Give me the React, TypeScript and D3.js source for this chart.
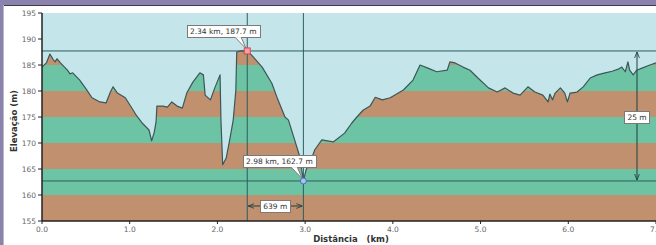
import React, { useEffect, useRef } from 'react';
import * as d3 from 'd3';

// ------- Data -------
const distanceKm = [
  0.0, 0.05, 0.09, 0.13, 0.15, 0.17, 0.21, 0.29, 0.32, 0.35, 0.43, 0.51, 0.57, 0.66, 0.73, 0.78,
  0.81, 0.86, 0.95, 1.04, 1.08, 1.15, 1.22, 1.25, 1.28, 1.3, 1.31, 1.38, 1.43, 1.48, 1.54, 1.6,
  1.65, 1.72, 1.8, 1.84, 1.86, 1.92, 1.97, 2.03, 2.04, 2.06, 2.1, 2.14, 2.18, 2.21, 2.22, 2.26,
  2.34, 2.39, 2.51, 2.62, 2.69, 2.77, 2.81, 2.88, 2.94, 2.98, 3.01, 3.08, 3.11, 3.19, 3.32, 3.45,
  3.53, 3.59, 3.66, 3.74, 3.8, 3.88, 3.97, 4.12, 4.23, 4.31, 4.4, 4.5, 4.62, 4.65, 4.71, 4.8,
  4.88, 4.97, 5.09, 5.19, 5.28, 5.37, 5.45, 5.54, 5.62, 5.71, 5.77, 5.79, 5.82, 5.85, 5.91, 5.96,
  5.99, 6.02, 6.1, 6.17, 6.25, 6.33, 6.42, 6.5, 6.57, 6.61, 6.65, 6.68, 6.7, 6.74, 6.78, 6.84,
  6.93, 7.0,
];
const elevationM = [
  184.6, 185.4, 187.1, 186.0, 185.6, 186.2, 185.4, 184.0, 183.3, 183.5, 182.1, 180.2, 178.7, 177.9,
  177.7, 179.8, 180.8, 179.6, 178.7, 176.3, 175.2, 173.7, 172.5, 170.4, 172.1, 174.0, 177.1, 177.1,
  176.9, 177.9, 177.1, 176.7, 179.6, 181.7, 183.5, 183.1, 179.2, 178.3, 180.6, 183.1, 174.4, 165.8,
  167.1, 170.6, 174.4, 180.2, 187.5, 187.7, 187.7, 186.9, 184.6, 181.5, 178.3, 175.0, 174.4, 170.6,
  167.3, 162.7, 164.8, 167.3, 168.7, 170.6, 170.2, 171.9, 173.8, 175.0, 176.3, 177.1, 178.8, 178.3,
  178.7, 180.2, 182.1, 185.0, 184.4, 183.7, 184.0, 185.6, 185.4, 184.6, 184.0, 182.5, 180.6, 179.8,
  180.6, 179.6, 179.2, 180.8, 179.8, 179.2, 177.9, 179.4, 178.3, 179.6, 180.6, 179.6, 177.9, 179.6,
  179.8, 180.8, 182.5, 183.1, 183.5, 183.8, 184.2, 184.6, 183.7, 185.6, 184.0, 183.1, 184.0, 184.4,
  185.0, 185.4,
];

const yTicks = [155, 160, 165, 170, 175, 180, 185, 190, 195];
const xTicks = [0, 1, 2, 3, 4, 5, 6, 7];
const bandEdges = [155, 160, 165, 170, 175, 180, 185, 190, 195];
const bandColors = ['#c0906f', '#6cc4a4'];

// selected points (crosshair markers)
const markerKm = [2.34, 2.98];
const markerM = [187.7, 162.7];
const distanceLabel = '639 m';
const heightLabel = '25 m';

const W = 656;
const H = 245;
const margin = { top: 13, right: 0, bottom: 24, left: 42 };

export default function App() {
  const ref = useRef<SVGSVGElement>(null);

  useEffect(() => {
    document.body.style.margin = '0';
    if (!ref.current) return;
    const svg = d3.select(ref.current);
    svg.selectAll('*').remove();

    const font = 'DejaVu Sans, Verdana, sans-serif';

    // ------- Frame -------
    svg.append('rect').attr('width', W).attr('height', H).attr('fill', '#ffffff');
    svg.append('rect').attr('width', W).attr('height', 5).attr('fill', '#8c82ae');
    svg.append('rect').attr('width', 3).attr('height', H).attr('fill', '#8c82ae');
    svg.append('line').attr('x1', 3).attr('x2', W).attr('y1', 5.5).attr('y2', 5.5).attr('stroke', '#3a3a48');
    svg.append('line').attr('x1', 3.5).attr('x2', 3.5).attr('y1', 5).attr('y2', H).attr('stroke', '#b8b8c4');

    // ------- Scales -------
    const x = d3.scaleLinear().domain([0, 7]).range([margin.left, W - margin.right]);
    const y = d3.scaleLinear().domain([155, 195]).range([H - margin.bottom, margin.top]);

    const profile = distanceKm.map((d, i) => ({ km: d, m: elevationM[i] }));

    // ------- Plot background -------
    svg
      .append('rect')
      .attr('x', x(0))
      .attr('y', y(195))
      .attr('width', x(7) - x(0))
      .attr('height', y(155) - y(195))
      .attr('fill', '#c4e6eb');

    // ------- Banded area under the profile -------
    const area = d3
      .area<{ km: number; m: number }>()
      .x((d) => x(d.km))
      .y0(y(155))
      .y1((d) => y(d.m));

    svg.append('clipPath').attr('id', 'profileClip').append('path').datum(profile).attr('d', area);

    const bands = bandEdges.slice(0, -1).map((lo, i) => ({ lo, hi: bandEdges[i + 1], i }));
    svg
      .append('g')
      .attr('clip-path', 'url(#profileClip)')
      .selectAll('rect')
      .data(bands)
      .enter()
      .append('rect')
      .attr('x', x(0))
      .attr('width', x(7) - x(0))
      .attr('y', (d) => y(d.hi))
      .attr('height', (d) => y(d.lo) - y(d.hi))
      .attr('fill', (d) => bandColors[d.i % 2]);

    const line = d3
      .line<{ km: number; m: number }>()
      .x((d) => x(d.km))
      .y((d) => y(d.m));

    svg
      .append('path')
      .datum(profile)
      .attr('fill', 'none')
      .attr('stroke', '#3d5656')
      .attr('stroke-width', 1.2)
      .attr('stroke-linejoin', 'round')
      .attr('d', line);

    // ------- Crosshairs -------
    const cross = '#2b5e5f';
    markerKm.forEach((km) => {
      svg
        .append('line')
        .attr('x1', x(km))
        .attr('x2', x(km))
        .attr('y1', y(195))
        .attr('y2', y(155))
        .attr('stroke', cross)
        .attr('stroke-width', 1);
    });
    markerM.forEach((m) => {
      svg
        .append('line')
        .attr('x1', x(0))
        .attr('x2', x(7))
        .attr('y1', y(m))
        .attr('y2', y(m))
        .attr('stroke', cross)
        .attr('stroke-width', 1);
    });

    // ------- Axes -------
    const axisColor = '#222';
    const tickText = '#666';
    svg
      .append('line')
      .attr('x1', x(0))
      .attr('x2', x(0))
      .attr('y1', y(195))
      .attr('y2', y(155))
      .attr('stroke', axisColor)
      .attr('stroke-width', 1.5);
    svg
      .append('line')
      .attr('x1', x(0))
      .attr('x2', x(7))
      .attr('y1', y(155))
      .attr('y2', y(155))
      .attr('stroke', axisColor)
      .attr('stroke-width', 1.5);

    const yg = svg.append('g');
    yTicks.forEach((t) => {
      yg.append('line')
        .attr('x1', x(0) - 4)
        .attr('x2', x(0))
        .attr('y1', y(t))
        .attr('y2', y(t))
        .attr('stroke', axisColor);
      yg.append('text')
        .attr('x', x(0) - 6)
        .attr('y', y(t) + 3)
        .attr('text-anchor', 'end')
        .attr('font-family', font)
        .attr('font-size', 7.5)
        .attr('fill', tickText)
        .text(t);
    });

    const xg = svg.append('g');
    xTicks.forEach((t) => {
      xg.append('line')
        .attr('x1', x(t))
        .attr('x2', x(t))
        .attr('y1', y(155))
        .attr('y2', y(155) + 3)
        .attr('stroke', axisColor);
      xg.append('text')
        .attr('x', x(t))
        .attr('y', y(155) + 11)
        .attr('text-anchor', 'middle')
        .attr('font-family', font)
        .attr('font-size', 7.5)
        .attr('fill', tickText)
        .text(d3.format('.1f')(t));
    });

    svg
      .append('text')
      .attr('transform', `translate(17, ${(y(195) + y(155)) / 2 + 4}) rotate(-90)`)
      .attr('text-anchor', 'middle')
      .attr('font-family', font)
      .attr('font-size', 8.5)
      .attr('font-weight', 'bold')
      .attr('fill', '#333')
      .text('Elevação (m)');

    svg
      .append('text')
      .attr('x', 351)
      .attr('y', 242)
      .attr('text-anchor', 'middle')
      .attr('font-family', font)
      .attr('font-size', 8.5)
      .attr('font-weight', 'bold')
      .attr('fill', '#333')
      .attr('xml:space', 'preserve')
      .style('white-space', 'pre')
      .text('Distância   (km)');

    // ------- Arrow markers -------
    const defs = svg.append('defs');
    ['start', 'end'].forEach((k) => {
      defs
        .append('marker')
        .attr('id', `arrow-${k}`)
        .attr('viewBox', '0 0 10 10')
        .attr('refX', k === 'end' ? 10 : 0)
        .attr('refY', 5)
        .attr('markerWidth', 6)
        .attr('markerHeight', 6)
        .attr('markerUnits', 'userSpaceOnUse')
        .attr('orient', 'auto')
        .append('path')
        .attr('d', k === 'end' ? 'M0,1 L10,5 L0,9' : 'M10,1 L0,5 L10,9')
        .attr('fill', 'none')
        .attr('stroke', '#1f3f40')
        .attr('stroke-width', 1.4);
    });

    const labelBox = (text: string, cx: number, cy: number) => {
      const g = svg.append('g');
      const rect = g.append('rect').attr('fill', '#fff').attr('stroke', '#7a7a7a').attr('stroke-width', 1);
      const t = g
        .append('text')
        .attr('x', cx)
        .attr('y', cy + 3)
        .attr('text-anchor', 'middle')
        .attr('font-family', font)
        .attr('font-size', 7.5)
        .attr('fill', '#333')
        .text(text);
      const w = (t.node() as SVGTextElement).getComputedTextLength() + 6;
      rect
        .attr('x', Math.round(cx - w / 2) + 0.5)
        .attr('y', Math.round(cy - 6) + 0.5)
        .attr('width', Math.round(w))
        .attr('height', 12);
      return { left: cx - w / 2, right: cx + w / 2, bottom: cy + 6 };
    };

    // distance arrow between the two crosshairs
    const distY = 206;
    svg
      .append('line')
      .attr('x1', x(markerKm[0]) + 1)
      .attr('x2', x(markerKm[1]) - 1)
      .attr('y1', distY)
      .attr('y2', distY)
      .attr('stroke', '#1f3f40')
      .attr('marker-start', 'url(#arrow-start)')
      .attr('marker-end', 'url(#arrow-end)');
    labelBox(distanceLabel, (x(markerKm[0]) + x(markerKm[1])) / 2, distY);

    // height arrow
    const hx = 637;
    svg
      .append('line')
      .attr('x1', hx)
      .attr('x2', hx)
      .attr('y1', y(markerM[0]) + 1)
      .attr('y2', y(markerM[1]) - 1)
      .attr('stroke', '#1f3f40')
      .attr('marker-start', 'url(#arrow-start)')
      .attr('marker-end', 'url(#arrow-end)');
    labelBox(heightLabel, hx, 117);

    // ------- Point callouts -------
    markerKm.forEach((km, i) => {
      const px = x(km);
      const py = y(markerM[i]);
      const cx = px - 24;
      const cy = py - 20;
      const txt = `${km.toFixed(2)} km, ${markerM[i].toFixed(1)} m`;
      const b = labelBox(txt, cx, cy);
      svg
        .append('path')
        .attr('d', `M${px - 12},${b.bottom + 0.5} L${px - 1},${py - 2} L${px - 6},${b.bottom + 0.5}`)
        .attr('fill', '#fff')
        .attr('stroke', '#7a7a7a')
        .attr('stroke-width', 1);
      svg
        .append('line')
        .attr('x1', px - 11.5)
        .attr('x2', px - 6.5)
        .attr('y1', b.bottom)
        .attr('y2', b.bottom)
        .attr('stroke', '#fff')
        .attr('stroke-width', 1.5);
    });

    // markers on the profile
    svg
      .append('rect')
      .attr('x', x(markerKm[0]) - 3)
      .attr('y', y(markerM[0]) - 3)
      .attr('width', 6)
      .attr('height', 6)
      .attr('fill', '#f2a0a8')
      .attr('stroke', '#e0404c')
      .attr('stroke-width', 1);
    svg
      .append('circle')
      .attr('cx', x(markerKm[1]))
      .attr('cy', y(markerM[1]))
      .attr('r', 3)
      .attr('fill', '#a8c4ee')
      .attr('stroke', '#4a6cc0')
      .attr('stroke-width', 1);
  }, []);

  return <svg ref={ref} width={W} height={H} style={{ display: 'block' }} />;
}
